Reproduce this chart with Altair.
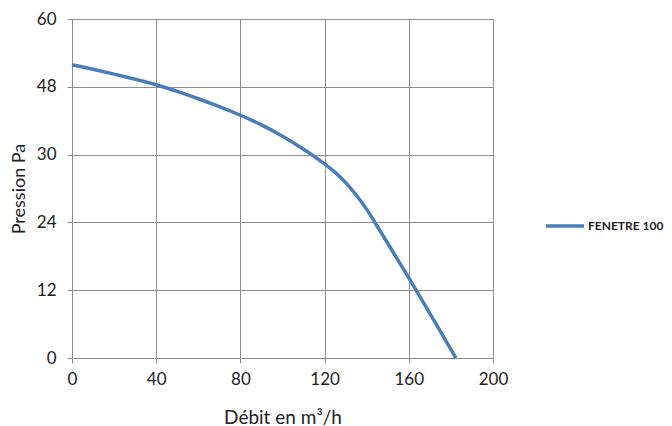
import altair as alt
import pandas as pd

debit = [0, 10, 20, 30, 40, 50, 60, 70, 80, 90, 100, 110, 120, 125, 130, 135, 140, 145, 150,
         160, 170, 182.4]
pression = [51.9, 51.1, 50.25, 49.35, 48.4, 47.2, 45.9, 44.5, 43.0, 41.3, 39.3, 37.0, 34.4,
            32.9, 31.1, 28.9, 26.4, 23.3, 20.3, 14.2, 7.9, 0]
serie = "FENETRE 100"

x_ticks = [0, 40, 80, 120, 160, 200]
y_ticks = [0, 12, 24, 36, 48, 60]
y_labels = ["0", "12", "24", "30", "48", "60"]

df = pd.DataFrame({"debit": debit, "pression": pression, "serie": [serie] * len(debit)})

label_expr = " : ".join(
    f"datum.value == {v} ? '{l}'" for v, l in zip(y_ticks, y_labels)
) + " : datum.label"

FONT = "Lato"
GRID = "#8c8c8c"
TXT = "#222222"

chart = alt.Chart(df).mark_line(
    interpolate="basis", strokeWidth=3.5
).encode(
    x=alt.X("debit:Q", title="Débit en m³/h",
            scale=alt.Scale(domain=[0, 200], nice=False),
            axis=alt.Axis(values=x_ticks, grid=True, gridColor=GRID, domainColor=GRID,
                          tickColor=GRID, tickSize=5, labelFontSize=17, labelColor=TXT,
                          labelFlush=False, titleFontSize=19, titleFontWeight="normal",
                          titleColor=TXT, titlePadding=21, labelPadding=8,
                          labelFont=FONT, titleFont=FONT)),
    y=alt.Y("pression:Q", title="Pression Pa",
            scale=alt.Scale(domain=[0, 60], nice=False),
            axis=alt.Axis(values=y_ticks, labelExpr=label_expr, grid=True, gridColor=GRID,
                          domainColor=GRID, tickColor=GRID, tickSize=5, labelFontSize=17,
                          labelColor=TXT, labelFlush=False, titleFontSize=18,
                          titleFontWeight="normal", titleColor=TXT, titlePadding=8,
                          labelPadding=11, labelFont=FONT, titleFont=FONT)),
    color=alt.Color("serie:N", scale=alt.Scale(range=["#4A7EBB"]),
                    legend=alt.Legend(title=None, orient="none", legendX=472, legendY=186,
                                      symbolType="stroke", symbolSize=1444,
                                      symbolStrokeWidth=3.5, labelFontSize=12,
                                      labelFontWeight="bold", labelFont=FONT,
                                      labelColor=TXT, labelOffset=2)),
).properties(
    width=421, height=339,
    autosize=alt.AutoSizeParams(type="none"),
    padding={"left": 64, "top": 11, "right": 171, "bottom": 70},
).configure_view(stroke=GRID).configure_axis(gridOpacity=1)

chart.save("out.html", embed_options={"renderer": "svg", "actions": False})
